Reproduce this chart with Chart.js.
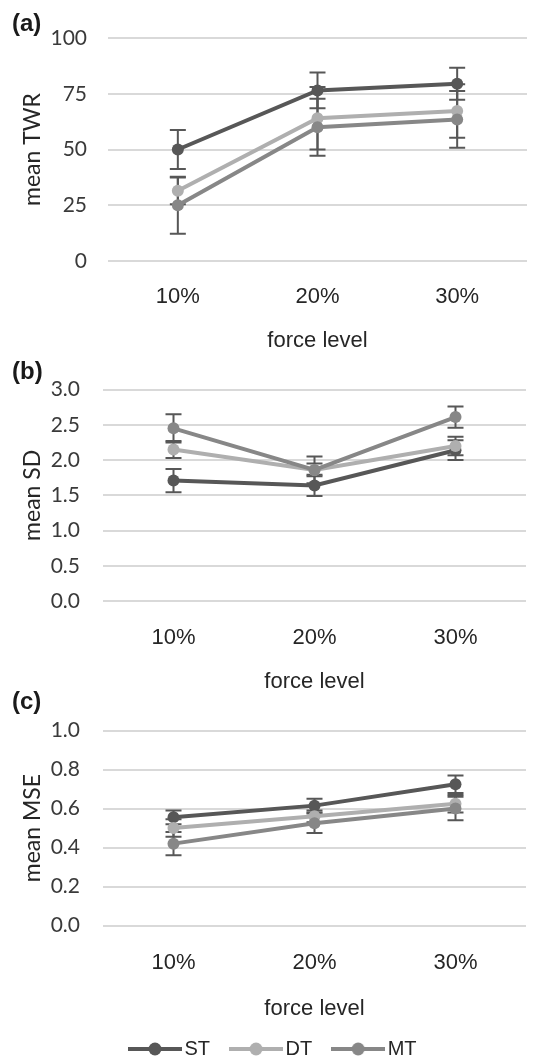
<!DOCTYPE html>
<html>
<head>
<meta charset="utf-8">
<script src="https://cdn.jsdelivr.net/npm/chart.js@4.4.1/dist/chart.umd.min.js"></script>
<style>
html, body { margin:0; padding:0; overflow:hidden; background:#fff; width:544px; height:1061px; }
#wrap { position:relative; width:544px; height:1061px; overflow:hidden; }
canvas { position:absolute; left:0; }
.plab { position:absolute; left:12px; font-family:"Liberation Sans", Arial, sans-serif; font-weight:bold; font-size:24px; line-height:24px; color:#1a1a1a; }
</style>
</head>
<body>
<div id="wrap">
  <canvas id="cA" width="544" height="354" style="top:0px"></canvas>
  <canvas id="cB" width="544" height="341" style="top:354px"></canvas>
  <canvas id="cC" width="544" height="374" style="top:695px"></canvas>
  <div class="plab" style="top:11px">(a)</div>
  <div class="plab" style="top:359px">(b)</div>
  <div class="plab" style="top:689px">(c)</div>
</div>
<script>
// ---- data ----
const categories = ['10%', '20%', '30%'];
const seriesNames = ['ST', 'DT', 'MT'];
const xTitle = 'force level';

// (a) mean TWR
const twrST = [50, 76.5, 79.5];
const twrDT = [31.5, 64, 67.3];
const twrMT = [25, 60, 63.5];
const twrErrST = [8.7, 8, 7.2];
const twrErrDT = [6, 14, 12];
const twrErrMT = [12.8, 12.8, 12.7];

// (b) mean SD
const sdST = [1.71, 1.64, 2.14];
const sdDT = [2.15, 1.86, 2.20];
const sdMT = [2.45, 1.86, 2.61];
const sdErrST = [0.165, 0.15, 0.14];
const sdErrDT = [0.12, 0.09, 0.13];
const sdErrMT = [0.20, 0.19, 0.15];

// (c) mean MSE
const mseST = [0.555, 0.615, 0.725];
const mseDT = [0.50, 0.56, 0.625];
const mseMT = [0.42, 0.525, 0.60];
const mseErrST = [0.035, 0.035, 0.045];
const mseErrDT = [0.045, 0.03, 0.045];
const mseErrMT = [0.06, 0.05, 0.06];

// ---- styling ----
const colors = ['#575757', '#afafaf', '#878787'];
const errColor = '#575757';
const gridColor = '#d9d9d9';

const errorBarPlugin = {
  id: 'errorBars',
  beforeDatasetsDraw(chart) {
    const ctx = chart.ctx;
    const yScale = chart.scales.y;
    ctx.save();
    ctx.strokeStyle = errColor;
    ctx.lineWidth = 2;
    chart.data.datasets.forEach((ds, di) => {
      const meta = chart.getDatasetMeta(di);
      meta.data.forEach((pt, i) => {
        const v = ds.data[i], e = ds.errors[i];
        const yTop = yScale.getPixelForValue(v + e);
        const yBot = yScale.getPixelForValue(v - e);
        const x = pt.x;
        ctx.beginPath();
        ctx.moveTo(x, yTop); ctx.lineTo(x, yBot);
        ctx.moveTo(x - 8, yTop); ctx.lineTo(x + 8, yTop);
        ctx.moveTo(x - 8, yBot); ctx.lineTo(x + 8, yBot);
        ctx.stroke();
      });
    });
    ctx.restore();
  }
};

function legendIcon(color) {
  const c = document.createElement('canvas');
  c.width = 54; c.height = 16;
  const g = c.getContext('2d');
  g.strokeStyle = color; g.lineWidth = 4;
  g.beginPath(); g.moveTo(0, 8); g.lineTo(54, 8); g.stroke();
  g.fillStyle = color;
  g.beginPath(); g.arc(27, 8, 6.5, 0, Math.PI * 2); g.fill();
  return c;
}
const legendIcons = colors.map(legendIcon);

function makeChart(id, opts) {
  const datasets = [opts.st, opts.dt, opts.mt].map((vals, k) => ({
    label: seriesNames[k],
    data: vals,
    errors: opts.err[k],
    borderColor: colors[k],
    backgroundColor: colors[k],
    pointBackgroundColor: colors[k],
    pointBorderWidth: 0,
    pointRadius: 6,
    pointStyle: 'circle',
    borderWidth: 4,
    tension: 0,
    order: 3 - k
  }));
  return new Chart(document.getElementById(id), {
    type: 'line',
    data: { labels: categories, datasets },
    plugins: [errorBarPlugin],
    options: {
      responsive: false,
      animation: false,
      events: [],
      layout: { padding: { top: opts.padTop, right: opts.padRight, left: opts.padLeft, bottom: 0 } },
      plugins: {
        tooltip: { enabled: false },
        legend: opts.legend ? {
          display: true,
          position: 'bottom',
          labels: {
            usePointStyle: true,
            pointStyleWidth: 39,
            padding: 26.5,
            color: '#262626',
            font: { family: '"Liberation Sans", Arial, sans-serif', size: 20 },
            sort: (a, b) => a.datasetIndex - b.datasetIndex,
            generateLabels: (chart) => {
              const items = Chart.defaults.plugins.legend.labels.generateLabels(chart);
              items.forEach((it) => { it.pointStyle = legendIcons[it.datasetIndex]; });
              return items;
            }
          }
        } : { display: false }
      },
      scales: {
        x: {
          offset: true,
          grid: { display: false, drawTicks: false },
          border: { display: false },
          ticks: {
            padding: opts.xTickPad,
            color: '#262626',
            font: { family: '"Liberation Sans", Arial, sans-serif', size: 22 }
          },
          title: {
            display: true,
            text: xTitle,
            color: '#262626',
            padding: { top: 0, bottom: opts.xTitlePadB },
            font: { family: '"Liberation Sans", Arial, sans-serif', size: 22, lineHeight: opts.xTitleLH }
          },
          afterFit: (s) => { s.height = opts.xH; }
        },
        y: {
          min: opts.min, max: opts.max,
          grid: { color: gridColor, lineWidth: 2, drawTicks: false },
          border: { display: false },
          ticks: {
            stepSize: opts.step,
            padding: opts.yTickPad,
            color: '#3a3a3a',
            font: { family: 'Lato, sans-serif', size: 21 },
            callback: opts.fmt
          },
          title: {
            display: true,
            text: opts.yTitle,
            color: '#262626',
            padding: { top: opts.yTitlePad, bottom: 0 },
            font: { family: 'Lato, sans-serif', size: 23, lineHeight: opts.yTitleLH }
          },
          afterFit: (s) => { s.width = opts.yW; }
        }
      }
    }
  });
}

makeChart('cA', {
  st: twrST, dt: twrDT, mt: twrMT, err: [twrErrST, twrErrDT, twrErrMT],
  min: 0, max: 100, step: 25, fmt: (v) => String(v), yTitle: 'mean TWR',
  padTop: 38, padRight: 17, padLeft: 0, yW: 108, xH: 93, xTickPad: 23, xTitlePadB: 0, xTitleLH: 1.2,
  yTickPad: 21, yTitlePad: 19, yTitleLH: 1.2, legend: false
});
makeChart('cB', {
  st: sdST, dt: sdDT, mt: sdMT, err: [sdErrST, sdErrDT, sdErrMT],
  min: 0, max: 3, step: 0.5, fmt: (v) => Number(v).toFixed(1), yTitle: 'mean SD',
  padTop: 31, padRight: 18, padLeft: 0, yW: 103, xH: 94, xTickPad: 24, xTitlePadB: 0, xTitleLH: 1.2,
  yTickPad: 23, yTitlePad: 19, yTitleLH: 1.2, legend: false
});
makeChart('cC', {
  st: mseST, dt: mseDT, mt: mseMT, err: [mseErrST, mseErrDT, mseErrMT],
  min: 0, max: 1, step: 0.2, fmt: (v) => Number(v).toFixed(1), yTitle: 'mean MSE',
  padTop: 21, padRight: 18, padLeft: 26, yW: 77, xH: 87, xTickPad: 24, xTitlePadB: 0, xTitleLH: 0.28,
  yTickPad: 23, yTitlePad: 3.5, yTitleLH: 0.3, legend: true
});
</script>
</body>
</html>
